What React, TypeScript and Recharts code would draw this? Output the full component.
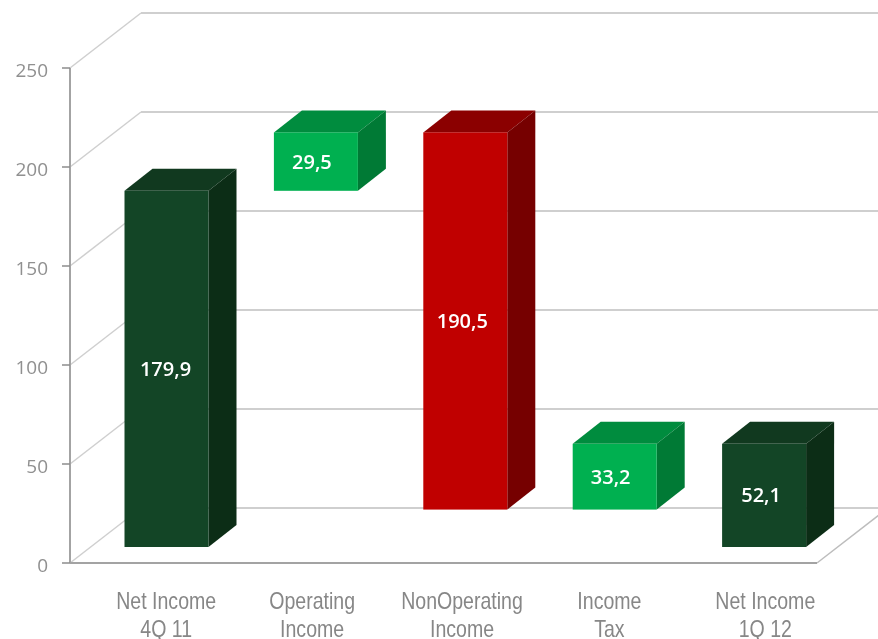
import { Bar, BarChart, CartesianGrid, LabelList, XAxis, YAxis } from 'recharts'

const categories = ['Net Income|4Q 11', 'Operating|Income', 'NonOperating|Income', 'Income|Tax', 'Net Income|1Q 12']
const hiddenBase = [0, 179.9, 18.9, 18.9, 0]
const visibleValue = [179.9, 29.5, 190.5, 33.2, 52.1]
const yTicks = [0, 50, 100, 150, 200, 250]

// front / top / side face of each box
const faces = [
  ['#134526', '#11391f', '#0c2d16'],
  ['#00b050', '#008c3e', '#007a35'],
  ['#c00000', '#8b0000', '#760000'],
  ['#00b050', '#008c3e', '#007a35'],
  ['#134526', '#11391f', '#0c2d16'],
]
const labelNudge = [21.5, 18, 18.5, 16.5, 23]
const valueNudge = [-1, -4, -3, -4, -3]

const rows = categories.map((name, i) => ({ name, base: hiddenBase[i], value: visibleValue[i] }))

// fake 3D depth of the Excel chart
const WALL_DX = 71
const WALL_DY = 55
const BOX_DX = 28
const BOX_DY = 22
const BOX_SHIFT_X = 21.5
const BOX_SHIFT_Y = -16

function WallLine(props: any) {
  const { x1, y1, x2 } = props
  const isFloor = y1 > 550
  return (
    <g key={props.key} fill="none" stroke="#cfcfcf">
      <path d={`M${x1},${y1}L${x1 + WALL_DX},${y1 - WALL_DY}`} strokeWidth={1.5} />
      <path d={`M${x1 + WALL_DX},${y1 - WALL_DY}L878,${y1 - WALL_DY}`} strokeWidth={2} />
      {isFloor && <path d={`M${x2},${y1}L${x2 + WALL_DX},${y1 - WALL_DY}`} stroke="#bdbdbd" strokeWidth={1.5} />}
    </g>
  )
}

function Box(props: any) {
  const { x, y, width, height, index } = props
  const left = x + BOX_SHIFT_X
  const top = y + BOX_SHIFT_Y
  const [front, roof, side] = faces[index]
  return (
    <g>
      <path
        d={`M${left},${top}l${BOX_DX},${-BOX_DY}h${width}l${-BOX_DX},${BOX_DY}z`}
        fill={roof}
      />
      <path
        d={`M${left + width},${top}l${BOX_DX},${-BOX_DY}v${height}l${-BOX_DX},${BOX_DY}z`}
        fill={side}
      />
      <rect x={left} y={top} width={width} height={height} fill={front} />
    </g>
  )
}

function BoxLabel(props: any) {
  const { x, y, width, height, value, index } = props
  return (
    <text
      x={x + width / 2 + BOX_SHIFT_X + valueNudge[index]}
      y={y + height / 2 + BOX_SHIFT_Y + 7}
      textAnchor="middle"
      fill="#fff"
      fontFamily="'Open Sans', sans-serif"
      fontWeight={600}
      fontSize={20}
    >
      {String(value).replace('.', ',')}
    </text>
  )
}

function CategoryTick(props: any) {
  const { x, payload, index } = props
  const [first, second] = String(payload.value).split('|')
  const cx = x + labelNudge[index]
  return (
    <g fill="#878787" fontFamily="'Liberation Sans', Arial, sans-serif" fontSize={23} textAnchor="middle">
      <text transform={`translate(${cx},609) scale(0.85,1)`}>{first}</text>
      <text transform={`translate(${cx},636.5) scale(0.85,1)`}>{second}</text>
    </g>
  )
}

export default function App() {
  return (
    <div style={{ position: 'absolute', left: 0, top: 0, width: 878, height: 639, background: '#fff', filter: 'blur(0.5px)' }}>
      <BarChart
        width={878}
        height={639}
        data={rows}
        margin={{ top: 68, right: 61, bottom: 0, left: 0 }}
        barSize={84}
      >
        <CartesianGrid horizontal={WallLine} vertical={false} />
        <XAxis
          dataKey="name"
          height={76}
          interval={0}
          axisLine={{ stroke: '#a3a3a3', strokeWidth: 2 }}
          tickLine={false}
          tick={CategoryTick}
        />
        <YAxis
          width={70}
          domain={[0, 250]}
          ticks={yTicks}
          tickSize={8}
          tickMargin={14}
          axisLine={{ stroke: '#a3a3a3', strokeWidth: 2 }}
          tickLine={{ stroke: '#8c8c8c', strokeWidth: 1.5 }}
          tick={{ fill: '#909090', fontFamily: "'Open Sans', sans-serif", fontSize: 19, dy: 2 }}
        />
        <Bar dataKey="base" stackId="a" fill="none" isAnimationActive={false} />
        <Bar dataKey="value" stackId="a" shape={Box} isAnimationActive={false}>
          <LabelList dataKey="value" content={BoxLabel} />
        </Bar>
      </BarChart>
    </div>
  )
}
